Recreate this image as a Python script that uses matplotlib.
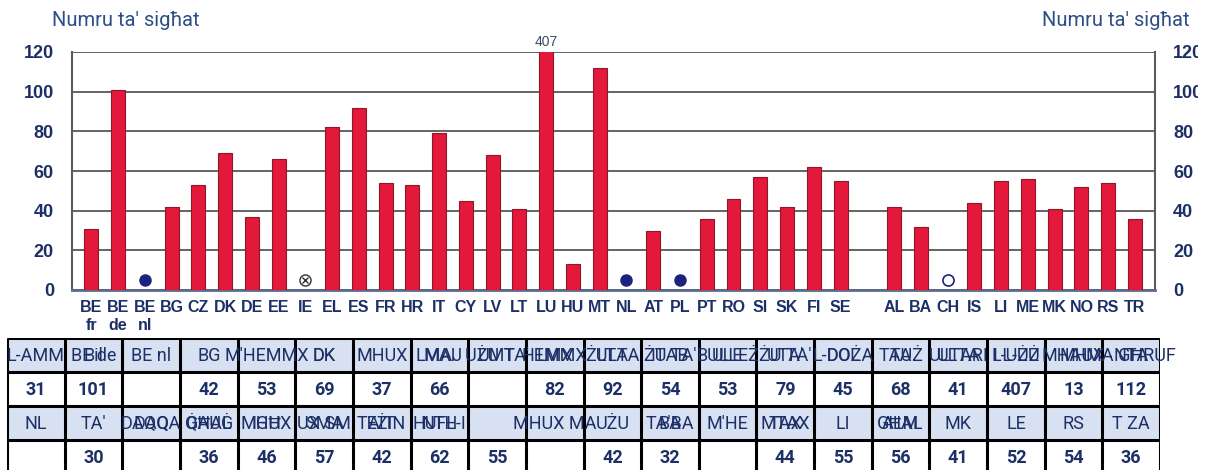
import matplotlib
matplotlib.use("Agg")
import matplotlib.pyplot as plt
from matplotlib.patches import Rectangle
from matplotlib.transforms import Bbox

# countries, in chart order (the empty slot separates EU from non-EU)
countries = ["BE fr", "BE de", "BE nl", "BG", "CZ", "DK", "DE", "EE", "IE", "EL",
             "ES", "FR", "HR", "IT", "CY", "LV", "LT", "LU", "HU", "MT",
             "NL", "AT", "PL", "PT", "RO", "SI", "SK", "FI", "SE", "",
             "AL", "BA", "CH", "IS", "LI", "ME", "MK", "NO", "RS", "TR"]

# hours of instruction, None where there is no figure
hours = [31, 101, None, 42, 53, 69, 37, 66, None, 82,
         92, 54, 53, 79, 45, 68, 41, 407, 13, 112,
         None, 30, None, 36, 46, 57, 42, 62, 55, None,
         42, 32, None, 44, 55, 56, 41, 52, 54, 36]

# symbols used instead of bars
dots = ["BE nl", "NL", "PL"]
crossed = ["IE"]
hollow = ["CH"]

yticks = [0, 20, 40, 60, 80, 100, 120]
ytitle = "Numru ta' sigħat"

# header text of the table (two overlapping layers, as printed)
head1_a = ["L-AMM", "BE de", "BE nl", "BG", "M'HEMMX", "DK", "MHUX", "LMAJ", "UŻU TA'", "HEMMX",
           "ŻULTA", "ŻU TA'", "BULLEŻ", "ŻU TA'", "L-DOŻA", "TAUŻ", "ULTARI", "L-UŻU", "MHAUX", "MA GĦRUF"]
head1_b = ["", "Bil", "", "", "", "DK", "", "MAI", "UMT", "LMX",
           "LTA", "ITAB", "ULE", "UTA'", "DOL", "TA", "ULTA", "I L-UŻ", "MH", "NTA"]
head2_a = ["NL", "TA'", "DAQQA", "ĠĦAL", "MHUX", "SMA", "TEŻIN", "HUFL-I", "", "MHUX MA",
           "UŻU", "TA'BA", "M'HE", "MTAX", "LI", "GĦAL", "MK", "LE", "RS", "T ZA"]
head2_b = ["", "", "DAQ", "QAUĠ", "IGĦ", "UX SM", "AIT", "NTH", "", "",
           "", "BA", "", "TAX", "", "ALM", "", "", "", ""]

navy = "#1c2f66"
red = "#e3183a"
narrow = ["Liberation Sans Narrow", "Liberation Sans", "DejaVu Sans"]
din = ["Roboto", "DejaVu Sans"]

fig = plt.figure(figsize=(12.31, 4.70), dpi=100)
W, H = 1231, 470

ax = fig.add_axes([72 / W, 1 - 290 / H, (1155 - 72) / W, (290 - 52) / H])
x = list(range(len(countries)))

bx = [i for i, v in zip(x, hours) if v is not None]
bv = [v for v in hours if v is not None]
ax.bar(bx, bv, width=0.52, color=red, edgecolor="#8e1828", linewidth=0.8, zorder=3)

# value above the bar that runs off the scale
for i, v in zip(x, hours):
    if v is not None and v > yticks[-1]:
        ax.text(i, yticks[-1] + 1.5, str(v), ha="center", va="bottom",
                fontsize=10, family=narrow, color="#3b4766")

mark_y = 5
for i, c in zip(x, countries):
    if c in dots:
        ax.plot(i, mark_y, "o", ms=8, color="#1a237e", zorder=4)
    elif c in hollow:
        ax.plot(i, mark_y, "o", ms=8, mfc="white", mec="#1a237e", mew=1.2, zorder=4)
    elif c in crossed:
        ax.plot(i, mark_y, "o", ms=8, mfc="white", mec="#333333", mew=1.0, zorder=4)
        ax.plot(i, mark_y, "x", ms=5, color="#333333", mew=1.0, zorder=5)

ax.set_xlim(-0.72, 39.75)
ax.set_ylim(0, 120)
ax.set_yticks(yticks)
ax.yaxis.grid(True, color="#4a4a4a", linewidth=1.2, zorder=0)
ax.set_axisbelow(True)
ax.set_xticks(x)
ax.set_xticklabels([c.replace(" ", "\n") for c in countries], fontsize=11.5,
                   family=narrow, fontweight="bold", color=navy, linespacing=1.25)
ax.tick_params(axis="x", length=0, pad=7)
ax.tick_params(axis="y", length=0, pad=13, labelright=True, labelsize=13, labelcolor=navy)
for t in ax.yaxis.get_major_ticks():
    for lab in (t.label1, t.label2):
        lab.set_family(narrow)
        lab.set_fontweight("bold")
    t.label2.set_clip_box(Bbox.from_extents(0, 0, 1198, H))
    t.label2.set_clip_on(True)

ax.spines["top"].set_visible(False)
for side in ["left", "right"]:
    ax.spines[side].set_color("#5a5a5a")
    ax.spines[side].set_linewidth(1.5)
ax.spines["bottom"].set_color("#5c6a8c")
ax.spines["bottom"].set_linewidth(2)

fig.text(52 / W, 1 - 20 / H, ytitle, ha="left", va="center", fontsize=14.5,
         family=din, color="#2c4f88")
fig.text(1190 / W, 1 - 20 / H, ytitle, ha="right", va="center", fontsize=14.5,
         family=din, color="#2c4f88")

# table below the chart: header row, value row, header row, value row
tab = fig.add_axes([7 / W, -4 / H, 1153 / W, 136 / H])
tab.set_xlim(0, 20)
tab.set_ylim(4, 0)
tab.axis("off")

for r in (0, 2):
    for c in range(20):
        tab.add_patch(Rectangle((c, r), 1, 1, facecolor="#d8e1f2", edgecolor="none", zorder=1))
tab.hlines(range(5), 0, 20, color="black", linewidth=2.2, zorder=3)
tab.vlines(range(21), 0, 4, color="black", linewidth=2.2, zorder=3)

for r, top, under in ((0, head1_a, head1_b), (2, head2_a, head2_b)):
    for c in range(20):
        for s in (under[c], top[c]):
            if s:
                tab.text(c + 0.5, r + 0.52, s, ha="center", va="center", fontsize=13,
                         family=din, color=navy, zorder=4, clip_on=False)

for row, start in ((1, 0), (3, 20)):
    for c in range(20):
        v = hours[start + c]
        if v is not None:
            tab.text(c + 0.5, row + 0.52, str(v), ha="center", va="center", fontsize=13,
                     family=din, fontweight="bold", color=navy, zorder=4)

fig.savefig("out.png", dpi=100)
